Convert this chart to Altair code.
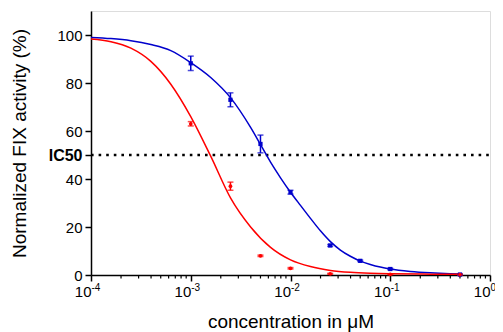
import altair as alt
import pandas as pd

# fitted curves, log10 concentration -> activity
blue_curve_logx = [-4.0, -3.8, -3.6, -3.4, -3.2, -3.0, -2.8, -2.6, -2.4, -2.3, -2.2, -2.1, -2.0, -1.9, -1.8, -1.7, -1.6, -1.5, -1.4, -1.3, -1.2, -1.1, -1.0, -0.8, -0.6, -0.4, -0.3]
blue_curve_y = [99.0, 98.5, 97.6, 96.0, 93.5, 88.5, 82.3, 73.8, 61.5, 54.3, 47.0, 40.5, 34.5, 29.0, 23.6, 18.4, 13.9, 10.4, 7.8, 5.8, 4.4, 3.3, 2.5, 1.5, 0.9, 0.55, 0.45]
red_curve_logx = [-4.0, -3.8, -3.6, -3.4, -3.2, -3.0, -2.8, -2.6, -2.4, -2.2, -2.0, -1.8, -1.6, -1.4, -1.2, -1.0, -0.6, -0.3]
red_curve_y = [98.3, 97.2, 94.5, 89.0, 79.5, 66.0, 49.5, 32.0, 20.0, 11.5, 6.3, 3.5, 1.9, 1.1, 0.7, 0.5, 0.35, 0.3]

# measured points
blue_x = [0.001, 0.0025, 0.005, 0.01, 0.025, 0.05, 0.1, 0.5]
blue_y = [88.2, 73.0, 54.6, 34.5, 12.3, 5.9, 2.5, 0.2]
blue_err = [3.0, 2.9, 3.7, 0.8, 0.4, 0.3, 0.3, 0.2]
red_x = [0.001, 0.0025, 0.005, 0.01, 0.025, 0.1, 0.5]
red_y = [63.0, 37.0, 8.0, 2.8, 0.5, 0.3, 0.2]
red_err = [0.9, 1.7, 0.3, 0.3, 0.2, 0.2, 0.2]

decades = [1e-4, 1e-3, 1e-2, 1e-1, 1e0]
exponents = ["-4", "-3", "-2", "-1", "0"]
minor_ticks = [m * d for d in [1e-4, 1e-3, 1e-2, 1e-1] for m in range(2, 10)]
y_ticks = [0, 20, 40, 50, 60, 80, 100]

BLUE = "#0000CC"
RED = "#FF0000"
FONT = "Liberation Sans"

curves = pd.DataFrame(
    [{"x": 10 ** lx, "y": y, "s": "blue"} for lx, y in zip(blue_curve_logx, blue_curve_y)]
    + [{"x": 10 ** lx, "y": y, "s": "red"} for lx, y in zip(red_curve_logx, red_curve_y)]
)
pts = pd.DataFrame(
    [{"x": x, "y": y, "lo": y - e, "hi": y + e, "s": "blue"} for x, y, e in zip(blue_x, blue_y, blue_err)]
    + [{"x": x, "y": y, "lo": y - e, "hi": y + e, "s": "red"} for x, y, e in zip(red_x, red_y, red_err)]
)
lab = pd.DataFrame({"x": decades, "e": exponents})
minor = pd.DataFrame({"x": minor_ticks})
ic50 = pd.DataFrame({"x": [1e-4], "x2": [1e0], "y": [50]})

xs = alt.Scale(type="log", domain=[1e-4, 1], nice=False)
ys = alt.Scale(domain=[0, 110], nice=False, zero=False)
color = alt.Color("s:N", scale=alt.Scale(domain=["blue", "red"], range=[BLUE, RED]), legend=None)

xaxis = alt.Axis(values=decades, labels=False, tickSize=6, tickWidth=1.5, domainWidth=1.5,
                 domainColor="black", tickColor="black", grid=False,
                 title="concentration in μM", titleFont=FONT, titleFontSize=19, titleFontWeight="normal",
                 titleColor="black", titleBaseline="alphabetic", titleY=52)
yaxis = alt.Axis(values=y_ticks, tickSize=6, tickWidth=1.5, domainWidth=1.5, domainColor="black",
                 tickColor="black", grid=False, labelFont=FONT, labelColor="black", labelPadding=3,
                 labelFontSize={"condition": {"test": "datum.value == 50", "value": 16}, "value": 15},
                 labelFontWeight={"condition": {"test": "datum.value == 50", "value": "bold"}, "value": "normal"},
                 labelExpr="datum.value == 50 ? 'IC50' : datum.label",
                 title="Normalized FIX activity (%)", titleFont=FONT, titleFontSize=19,
                 titleFontWeight="normal", titleColor="black", titleX=-62, titleBaseline="bottom")

base_line = alt.Chart(ic50).mark_rule(color="black", strokeWidth=2.6, strokeDash=[2.6, 5]).encode(
    x=alt.X("x:Q", scale=xs, axis=xaxis), x2="x2:Q", y=alt.Y("y:Q", scale=ys, axis=yaxis))

lines = alt.Chart(curves).mark_line(strokeWidth=1.5, interpolate="monotone").encode(
    x=alt.X("x:Q", scale=xs), y=alt.Y("y:Q", scale=ys), color=color, detail="s:N")

bars = alt.Chart(pts).mark_rule(strokeWidth=1.5).encode(
    x=alt.X("x:Q", scale=xs), y=alt.Y("lo:Q", scale=ys), y2="hi:Q", color=color)
cap_lo = alt.Chart(pts).mark_tick(thickness=1.5, size=6, orient="horizontal").encode(
    x=alt.X("x:Q", scale=xs), y=alt.Y("lo:Q", scale=ys), color=color)
cap_hi = alt.Chart(pts).mark_tick(thickness=1.5, size=6, orient="horizontal").encode(
    x=alt.X("x:Q", scale=xs), y=alt.Y("hi:Q", scale=ys), color=color)

blue_pts = alt.Chart(pts).transform_filter("datum.s == 'blue'").mark_square(size=18, opacity=1).encode(
    x=alt.X("x:Q", scale=xs), y=alt.Y("y:Q", scale=ys), color=color)
red_pts = alt.Chart(pts).transform_filter("datum.s == 'red'").mark_circle(size=14, opacity=1).encode(
    x=alt.X("x:Q", scale=xs), y=alt.Y("y:Q", scale=ys), color=color)

minor_rules = alt.Chart(minor).mark_rule(color="black", strokeWidth=1.2).encode(
    x=alt.X("x:Q", scale=xs), y=alt.value(264), y2=alt.value(267.5))

base_lab = alt.Chart(lab).mark_text(font=FONT, fontSize=15, align="right", baseline="alphabetic",
                                    color="black", dx=0.5).encode(
    x=alt.X("x:Q", scale=xs), y=alt.value(286), text=alt.value("10"))
exp_lab = alt.Chart(lab).mark_text(font=FONT, fontSize=10, align="left", baseline="alphabetic",
                                   color="black", dx=0.5).encode(
    x=alt.X("x:Q", scale=xs), y=alt.value(280), text="e:N")

chart = alt.layer(base_line, minor_rules, lines, bars, cap_lo, cap_hi, blue_pts, red_pts, base_lab, exp_lab).properties(
    width=399, height=264,
    autosize=alt.AutoSizeParams(type="none"),
    padding={"left": 83, "top": 3, "right": 5, "bottom": 57},
).configure_view(stroke=None).configure(background="white")

chart.save("out.html", embed_options={"renderer": "svg", "actions": False})
